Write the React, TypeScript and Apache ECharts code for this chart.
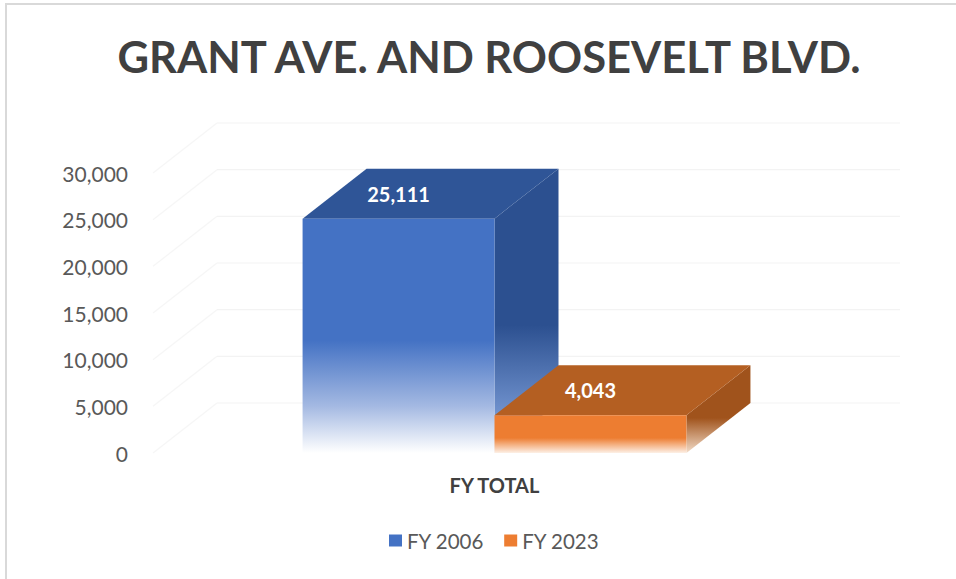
import React, { useEffect, useRef } from "react";
import * as echarts from "echarts";

const TITLE = "GRANT AVE. AND ROOSEVELT BLVD.";
const CATEGORIES = ["FY TOTAL"];
const SERIES_NAMES = ["FY 2006", "FY 2023"];
const FY2006 = [25111];
const FY2023 = [4043];
const Y_TICKS = [0, 5000, 10000, 15000, 20000, 25000, 30000];

const DX = 64;
const DY = -50;
const BAR_FRAC = 0.281;
const FONT = "Lato, 'Open Sans', sans-serif";

const fmt = (v: number) => v.toLocaleString("en-US");

function grad(stops: [number, string][]) {
  return new echarts.graphic.LinearGradient(
    0, 0, 0, 1,
    stops.map(([offset, color]) => ({ offset, color }))
  );
}

const STYLES = [
  {
    front: grad([[0, "#4472C4"], [0.52, "#4472C4"], [0.8, "#a4b9e2"], [1, "#ffffff"]]),
    top: "#2F5597",
    side: grad([[0, "#2C5090"], [0.55, "#2C5090"], [0.85, "#6e90cc"], [1, "#e6ecf7"]]),
    legend: "#4472C4",
    offset: -1,
  },
  {
    front: grad([[0, "#ED7D31"], [0.6, "#ED7D31"], [1, "#fdf0e6"]]),
    top: "#B45F22",
    side: grad([[0, "#A0531C"], [0.6, "#A0531C"], [1, "#f3dcc8"]]),
    legend: "#ED7D31",
    offset: 0,
  },
];

function barRenderer(idx: number) {
  return (params: any, api: any) => {
    const s = STYLES[idx];
    const cat = api.value(0);
    const v = api.value(1);
    const base = api.coord([cat, 0]);
    const top = api.coord([cat, v]);
    const band = api.size([1, 0])[0];
    const w = band * BAR_FRAC;
    const x0 = base[0] + s.offset * w;
    const x1 = x0 + w;
    const yb = base[1];
    const yt = top[1];
    return {
      type: "group",
      children: [
        {
          type: "polygon",
          shape: { points: [[x1, yt], [x1 + DX, yt + DY], [x1 + DX, yb + DY], [x1, yb]] },
          style: { fill: s.side },
        },
        {
          type: "polygon",
          shape: { points: [[x0, yt], [x0 + DX, yt + DY], [x1 + DX, yt + DY], [x1, yt]] },
          style: { fill: s.top },
        },
        {
          type: "rect",
          shape: { x: x0, y: yt, width: w, height: yb - yt },
          style: { fill: s.front },
        },
        {
          type: "text",
          x: (x0 + x1) / 2,
          y: yt + DY / 2,
          style: {
            text: fmt(v),
            fill: "#ffffff",
            font: `bold 20px ${FONT}`,
            align: "center",
            verticalAlign: "middle",
          },
        },
      ],
    };
  };
}

function wallRenderer(params: any, api: any) {
  const cs = params.coordSys;
  const y = api.coord([0, api.value(1)])[1];
  const c = "#f3f3f3";
  return {
    type: "group",
    children: [
      {
        type: "line",
        shape: { x1: cs.x + DX, y1: y + DY, x2: cs.x + cs.width + DX, y2: y + DY },
        style: { stroke: c, lineWidth: 1.2 },
      },
      {
        type: "line",
        shape: { x1: cs.x, y1: y, x2: cs.x + DX, y2: y + DY },
        style: { stroke: "#f6f6f6", lineWidth: 1.2 },
      },
    ],
  };
}

export default function App() {
  const ref = useRef<HTMLDivElement>(null);
  useEffect(() => {
    if (!ref.current) return;
    const chart = echarts.init(ref.current, undefined, { renderer: "svg" });
    chart.setOption({
      animation: false,
      backgroundColor: "#ffffff",
      title: {
        text: TITLE,
        left: 484,
        textAlign: "center",
        top: 29,
        textStyle: { fontFamily: FONT, fontWeight: "bold", fontSize: 43.5, color: "#404040" },
      },
      legend: {
        data: SERIES_NAMES,
        bottom: 23,
        left: 384,
        itemWidth: 13,
        itemHeight: 12,
        itemGap: 20,
        icon: "rect",
        textStyle: { fontFamily: FONT, fontSize: 20.5, color: "#595959" },
      },
      grid: { left: 153, right: 120, top: 173, bottom: 126 },
      xAxis: {
        type: "category",
        data: CATEGORIES,
        axisLine: { show: false },
        axisTick: { show: false },
        axisLabel: { fontFamily: FONT, fontWeight: "bold", fontSize: 20, color: "#404040", margin: 22 },
      },
      yAxis: {
        type: "value",
        min: 0,
        max: 30000,
        interval: 5000,
        axisLine: { show: false },
        axisTick: { show: false },
        splitLine: { show: false },
        axisLabel: { fontFamily: FONT, fontSize: 21, color: "#595959", margin: 25, formatter: (v: number) => fmt(v) },
      },
      graphic: [
        {
          type: "rect",
          shape: { x: 6, y: 4, width: 1000, height: 700 },
          style: { fill: "none", stroke: "#d9d9d9", lineWidth: 2 },
          silent: true,
        },
      ],
      series: [
        {
          type: "custom",
          name: "walls",
          renderItem: wallRenderer,
          data: Y_TICKS.map((t) => [0, t]),
          silent: true,
          z: 1,
        },
        {
          type: "custom",
          name: SERIES_NAMES[0],
          renderItem: barRenderer(0),
          itemStyle: { color: STYLES[0].legend },
          data: FY2006.map((v, i) => [i, v]),
          z: 2,
        },
        {
          type: "custom",
          name: SERIES_NAMES[1],
          renderItem: barRenderer(1),
          itemStyle: { color: STYLES[1].legend },
          data: FY2023.map((v, i) => [i, v]),
          z: 3,
        },
      ],
    });
    return () => chart.dispose();
  }, []);
  return (
    <div
      ref={ref}
      style={{ position: "fixed", left: 0, top: 0, width: 956, height: 579 }}
    />
  );
}
